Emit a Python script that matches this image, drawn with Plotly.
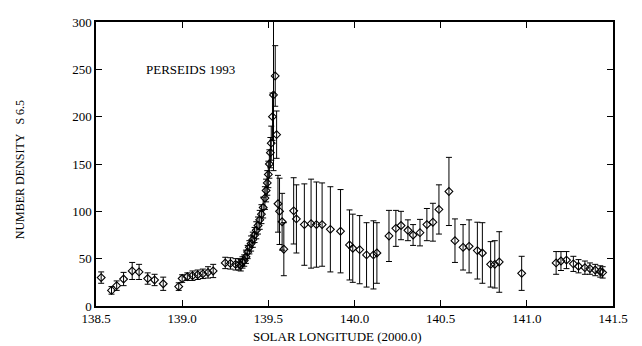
import plotly.graph_objects as go

# Solar longitude (2000.0)
longitude = [
    138.53, 138.59, 138.62, 138.66, 138.71, 138.75, 138.80, 138.84, 138.89,
    138.98, 139.00, 139.03, 139.06, 139.09, 139.12, 139.15, 139.18,
    139.25, 139.28, 139.31,
    139.33, 139.34, 139.35, 139.36, 139.37, 139.38, 139.39, 139.40, 139.41,
    139.42, 139.43, 139.44, 139.45, 139.46, 139.47, 139.48, 139.487, 139.494,
    139.50, 139.506, 139.512, 139.517, 139.524, 139.53, 139.54, 139.548,
    139.556, 139.565, 139.58, 139.59,
    139.647, 139.663, 139.709, 139.748, 139.779, 139.812, 139.86, 139.919,
    139.971, 139.99, 140.03, 140.07, 140.11, 140.13,
    140.20, 140.24, 140.27, 140.31, 140.34, 140.38, 140.42, 140.455, 140.49,
    140.548, 140.583, 140.63, 140.665, 140.713, 140.742, 140.79, 140.814,
    140.84, 140.97,
    141.17, 141.198, 141.23, 141.27, 141.30, 141.337, 141.366, 141.397,
    141.426, 141.44,
]
# Number density S 6.5
density = [
    30, 16.5, 21.5, 28.5, 37, 36, 29, 27.5, 23.5,
    20.5, 29, 31, 32, 33, 34, 35.5, 37,
    45.5, 45, 44,
    44, 43, 46, 48, 52, 57, 62, 66, 70,
    75, 80, 85, 91, 97, 104, 114, 122, 130,
    139, 150, 162, 172, 200, 223, 243, 181,
    108, 100, 89, 60,
    100.5, 92, 86, 87, 86, 86, 81, 79,
    64.5, 61, 59.5, 54, 54, 56,
    74, 82, 85, 80, 75, 77.5, 86, 88.5, 102,
    121, 69, 62, 63, 58.5, 56, 44, 44,
    46.5, 34.5,
    45.5, 47.5, 48.5, 44.5, 42, 40.5, 39.5, 38,
    36.5, 35.5,
]
# Error (±)
error = [
    6, 4, 5, 7, 9, 8, 6, 6, 7,
    4, 4, 4, 5, 5, 5, 6, 7,
    6, 6, 6,
    6, 6, 6, 6, 7, 7, 7, 8, 8,
    8, 9, 9, 10, 10, 11, 12, 12, 13,
    14, 15, 16, 18, 25, 80, 32, 25,
    30, 35, 30, 28,
    35, 36, 43, 47, 45, 44, 45, 44,
    37, 36, 36, 34, 36, 32,
    27, 19, 15, 11, 11, 14, 17, 20, 26,
    36, 23, 24, 28, 30, 32, 24, 25,
    32, 18,
    12, 10, 9, 8, 7, 7, 6, 6,
    6, 6,
]

x_ticks = [138.5, 139.0, 139.5, 140.0, 140.5, 141.0, 141.5]
y_ticks = [0, 50, 100, 150, 200, 250, 300]

FONT = "Liberation Serif"

fig = go.Figure()
fig.add_trace(go.Scatter(
    x=longitude, y=density, mode="markers",
    marker=dict(symbol="diamond-open", size=6, color="black",
                line=dict(width=1.1, color="black")),
    error_y=dict(type="data", array=error, visible=True,
                 color="black", thickness=1, width=3),
    showlegend=False, cliponaxis=True,
))

# the page body adds an 8px margin, so the figure is made 8px smaller
fig.update_layout(
    width=634, height=338,
    margin=dict(l=88, r=29, t=7, b=40),
    paper_bgcolor="white", plot_bgcolor="white",
    font=dict(family=FONT, size=13, color="black"),
    xaxis=dict(range=[138.5, 141.5], tickvals=x_ticks,
               ticktext=[f"{v:.1f}" for v in x_ticks],
               ticks="inside", ticklen=6, tickwidth=1, tickcolor="black",
               showline=True, linecolor="black", linewidth=1.5, mirror="ticks",
               showgrid=False, zeroline=False,
               tickfont=dict(family=FONT, size=13, color="black")),
    yaxis=dict(range=[0, 300], tickvals=y_ticks,
               ticks="inside", ticklen=6, tickwidth=1, tickcolor="black",
               showline=True, linecolor="black", linewidth=1.5, mirror="ticks",
               showgrid=False, zeroline=False,
               tickfont=dict(family=FONT, size=13, color="black")),
    annotations=[
        dict(text="PERSEIDS 1993", x=139.05, y=250, xref="x", yref="y",
             showarrow=False, font=dict(family=FONT, size=13, color="black")),
        dict(text="SOLAR LONGITUDE (2000.0)", x=(337 - 96) / 517, y=-0.075,
             xref="paper", yref="paper", xanchor="center", yanchor="top",
             showarrow=False,
             font=dict(family=FONT, size=13, color="black")),
        dict(text="NUMBER DENSITY&nbsp;&nbsp;&nbsp;S 6.5", x=(20 - 96) / 517,
             y=0.478, xref="paper", yref="paper", textangle=-90,
             xanchor="center", yanchor="middle",
             showarrow=False, font=dict(family=FONT, size=12, color="black")),
    ],
)

fig.write_html("out.html")
